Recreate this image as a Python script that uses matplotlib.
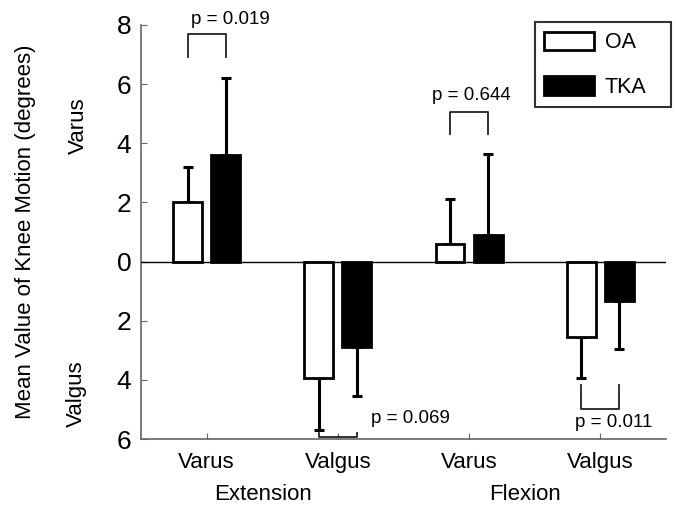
import numpy as np
import matplotlib
matplotlib.use("Agg")
import matplotlib.pyplot as plt
from matplotlib.patches import Patch

plt.rcParams['font.family'] = ['Liberation Sans', 'DejaVu Sans']

# Data (valgus values plotted as negative, labelled as positive)
categories = ["Varus", "Valgus", "Varus", "Valgus"]
groups = ["Extension", "Flexion"]
oa_mean = [2.0, -3.95, 0.6, -2.55]
oa_err = [1.2, 1.75, 1.5, 1.4]
tka_mean = [3.6, -2.9, 0.9, -1.35]
tka_err = [2.6, 1.65, 2.75, 1.6]
y_ticks = [-6, -4, -2, 0, 2, 4, 6, 8]
y_tick_labels = ["6", "4", "2", "0", "2", "4", "6", "8"]
p_labels = ["p = 0.019", "p = 0.069", "p = 0.644", "p = 0.011"]

x = np.arange(len(categories))
width = 0.22
offset = 0.145

fig = plt.figure(figsize=(6.76, 5.08), dpi=100)
ax = fig.add_axes([0.2086, 0.1358, 0.7764, 0.815])

# one-sided error bars pointing away from zero
def one_sided(means, errs):
    lo = [0 if m >= 0 else e for m, e in zip(means, errs)]
    hi = [e if m >= 0 else 0 for m, e in zip(means, errs)]
    return [lo, hi]

ax.bar(x - offset, oa_mean, width, color='white', edgecolor='black', linewidth=2, zorder=3)
ax.bar(x + offset, tka_mean, width, color='black', edgecolor='black', linewidth=2, zorder=3)
ax.errorbar(x - offset, oa_mean, yerr=one_sided(oa_mean, oa_err), fmt='none',
            ecolor='black', elinewidth=2.2, capsize=3.6, capthick=2.2, zorder=2)
ax.errorbar(x + offset, tka_mean, yerr=one_sided(tka_mean, tka_err), fmt='none',
            ecolor='black', elinewidth=2.2, capsize=3.6, capthick=2.2, zorder=2)

ax.axhline(0, color='black', linewidth=1, zorder=4)

# significance brackets
def bracket(xc, y_base, y_bar, text, tx, ty):
    xs = [xc - offset, xc - offset, xc + offset, xc + offset]
    ys = [y_base, y_bar, y_bar, y_base]
    ax.plot(xs, ys, color='#222222', linewidth=1.3, clip_on=False, zorder=5)
    ax.text(tx, ty, text, fontsize=13.5, ha='center', va='center', clip_on=False)

bracket(0, 6.93, 7.7, p_labels[0], 0.18, 8.2)
bracket(1, -5.8, -5.92, p_labels[1], 1.55, -5.3)
bracket(2, 4.32, 5.07, p_labels[2], 2.02, 5.6)
bracket(3, -4.19, -4.97, p_labels[3], 3.1, -5.44)

ax.set_xlim(-0.5, 3.5)
ax.set_ylim(-6, 8)
ax.set_yticks(y_ticks)
ax.set_yticklabels(y_tick_labels, fontsize=19)
ax.set_xticks(x)
ax.set_xticklabels(categories, fontsize=16)
ax.tick_params(axis='both', direction='in', length=4, color='#666666')
ax.tick_params(axis='x', pad=9)
ax.tick_params(axis='y', pad=7)

for s in ['top', 'right']:
    ax.spines[s].set_visible(False)
for s in ['left', 'bottom']:
    ax.spines[s].set_color('#666666')
    ax.spines[s].set_linewidth(1.2)

# group labels
for i, g in enumerate(groups):
    ax.text(2 * i + 0.43, -0.135, g, transform=ax.get_xaxis_transform(),
            fontsize=16, ha='center', va='center')

ax.text(-0.22, 0.5, "Mean Value of Knee Motion (degrees)", transform=ax.transAxes,
        rotation=90, fontsize=16, ha='center', va='center')
ax.text(-0.12, 4.6, "Varus", transform=ax.get_yaxis_transform(), rotation=90,
        fontsize=16, ha='center', va='center')
ax.text(-0.124, -4.46, "Valgus", transform=ax.get_yaxis_transform(), rotation=90,
        fontsize=16, ha='center', va='center')

handles = [Patch(facecolor='white', edgecolor='black', linewidth=2, label='OA'),
           Patch(facecolor='black', edgecolor='black', linewidth=2, label='TKA')]
leg = ax.legend(handles=handles, loc='upper left',
                bbox_to_anchor=(0.75, 0.814, 0.259, 0.193), mode='expand',
                fontsize=15.5, frameon=True, fancybox=False, handlelength=2.3,
                handleheight=0.95, labelspacing=1.05, handletextpad=0.5,
                borderpad=0.45, borderaxespad=0)
leg.get_frame().set_edgecolor('black')
leg.get_frame().set_linewidth(1.5)

fig.savefig("out.png", dpi=100)
